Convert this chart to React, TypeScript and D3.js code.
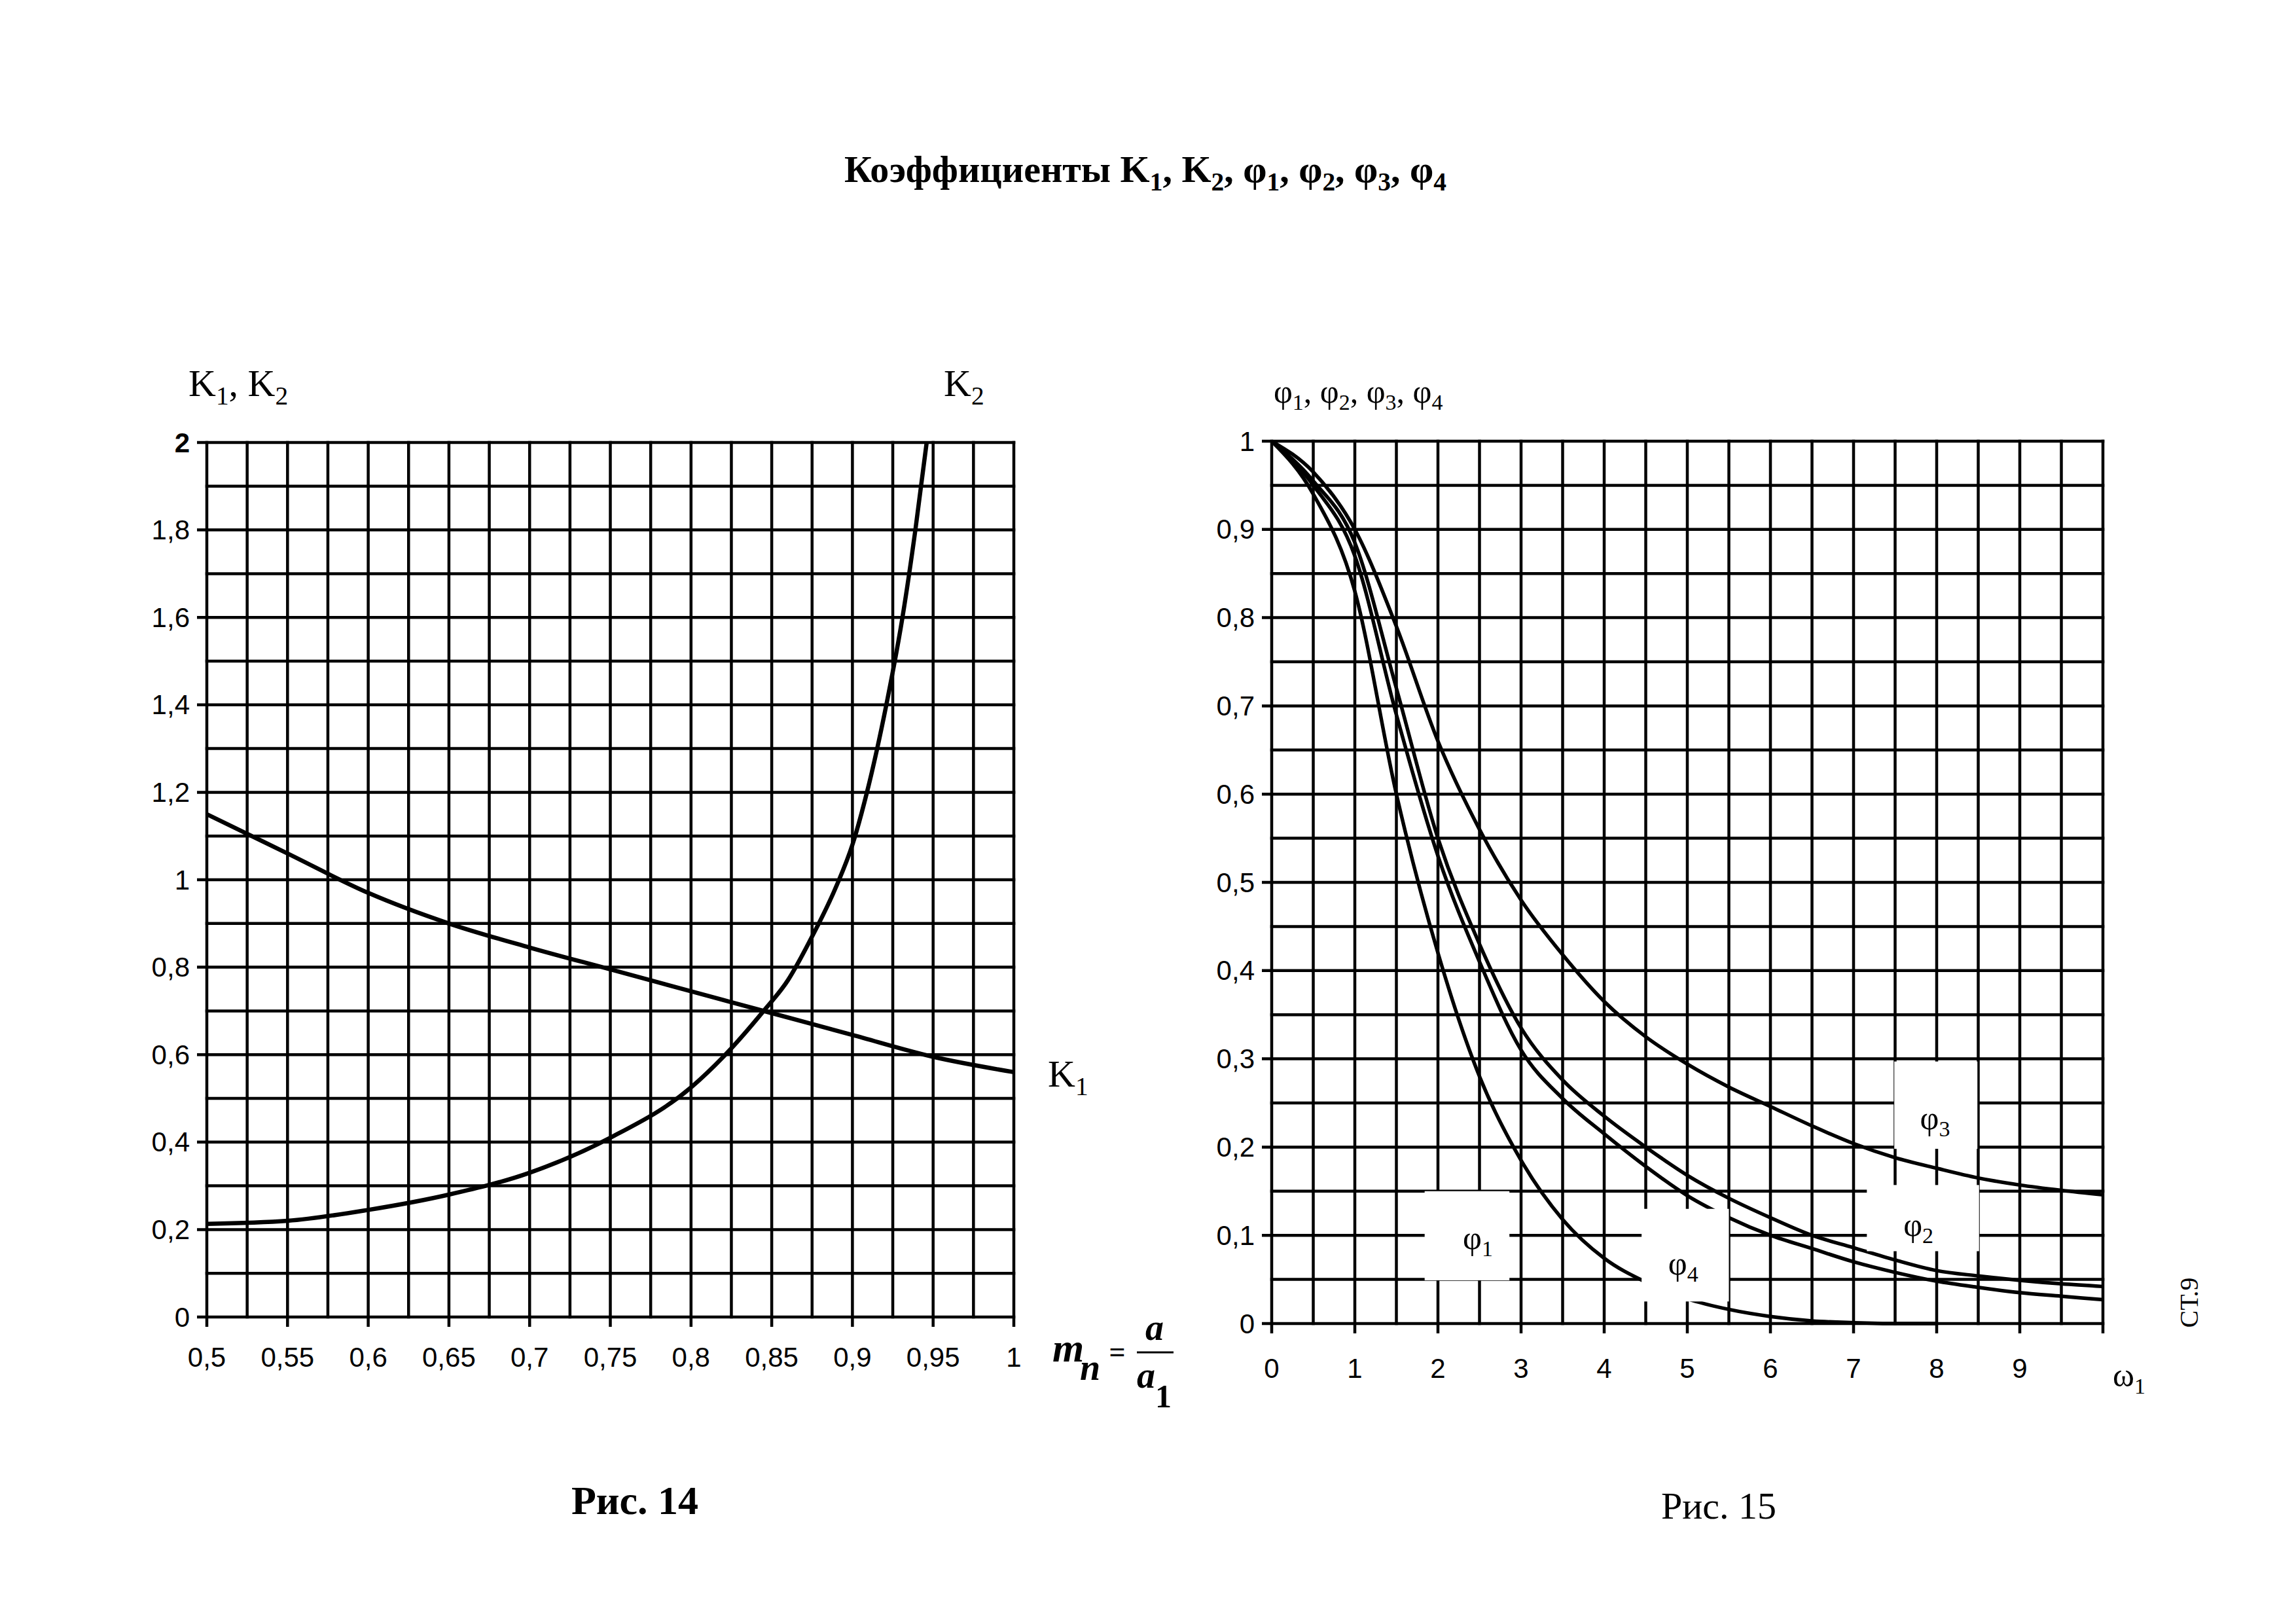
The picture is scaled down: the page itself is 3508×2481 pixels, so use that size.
import React from 'react'
import * as d3 from 'd3'

// Рис. 14: K1, K2 against mn = a / a1
const mn = [0.5, 0.55, 0.6, 0.65, 0.7, 0.75, 0.8, 0.85, 0.9, 0.95, 1]
const k1Values = [1.15, 1.06, 0.97, 0.9, 0.845, 0.795, 0.745, 0.695, 0.645, 0.595, 0.56]
const k2Mn = [0.5, 0.55, 0.6, 0.65, 0.7, 0.75, 0.8, 0.82, 0.845, 0.86, 0.875, 0.89, 0.9, 0.909, 0.921, 0.931, 0.939, 0.946]
const k2Values = [0.213, 0.22, 0.245, 0.28, 0.33, 0.41, 0.525, 0.595, 0.7, 0.77, 0.87, 0.985, 1.08, 1.2, 1.4, 1.6, 1.8, 2.0]
const kXTicks = [0.5, 0.55, 0.6, 0.65, 0.7, 0.75, 0.8, 0.85, 0.9, 0.95, 1]
const kXTickLabels = ['0,5', '0,55', '0,6', '0,65', '0,7', '0,75', '0,8', '0,85', '0,9', '0,95', '1']
const kYTicks = [0, 0.2, 0.4, 0.6, 0.8, 1, 1.2, 1.4, 1.6, 1.8, 2]
const kYTickLabels = ['0', '0,2', '0,4', '0,6', '0,8', '1', '1,2', '1,4', '1,6', '1,8', '2']

// Рис. 15: φ1..φ4 against ω1
const omega = [0, 0.5, 1, 1.5, 2, 2.5, 3, 3.5, 4, 4.5, 5, 5.5, 6, 6.5, 7, 7.5, 8, 8.5, 9, 9.5, 10]
const phi1 = [1, 0.95, 0.87, 0.69, 0.53, 0.41, 0.31, 0.255, 0.215, 0.178, 0.145, 0.12, 0.1, 0.085, 0.07, 0.058, 0.048, 0.041, 0.035, 0.031, 0.027]
const phi2 = [1, 0.955, 0.885, 0.72, 0.55, 0.43, 0.335, 0.276, 0.235, 0.2, 0.168, 0.142, 0.12, 0.1, 0.086, 0.072, 0.06, 0.054, 0.049, 0.045, 0.042]
const phi3 = [1, 0.965, 0.9, 0.79, 0.66, 0.56, 0.48, 0.418, 0.365, 0.325, 0.294, 0.268, 0.246, 0.224, 0.204, 0.188, 0.176, 0.165, 0.157, 0.151, 0.146]
const phi4Omega = [0, 0.5, 1, 1.5, 2, 2.5, 3, 3.5, 4, 4.5, 5, 5.5, 6, 6.5, 7, 7.5, 8]
const phi4 = [1, 0.94, 0.83, 0.6, 0.42, 0.28, 0.185, 0.118, 0.074, 0.047, 0.028, 0.016, 0.008, 0.003, 0.001, 0, 0]
const phiXTicks = [0, 1, 2, 3, 4, 5, 6, 7, 8, 9]
const phiXTickLabels = ['0', '1', '2', '3', '4', '5', '6', '7', '8', '9']
const phiYTicks = [0, 0.1, 0.2, 0.3, 0.4, 0.5, 0.6, 0.7, 0.8, 0.9, 1]
const phiYTickLabels = ['0', '0,1', '0,2', '0,3', '0,4', '0,5', '0,6', '0,7', '0,8', '0,9', '1']

const SANS = '"Liberation Sans", Arial, sans-serif'
const SERIF = '"Liberation Serif", "Times New Roman", serif'
const GRID = 4.5
const TICK = 15

// text with subscripts: parts = [[base, sub], ...]
function SubText(props: {
  x: number
  y: number
  parts: [string, string][]
  size: number
  weight?: string
  anchor?: string
  family?: string
  italic?: boolean
}) {
  const { x, y, parts, size, weight = 'normal', anchor = 'start', family = SERIF, italic } = props
  const shift = size * 0.22
  const kids: React.ReactNode[] = []
  let down = false
  parts.forEach(([base, sub], i) => {
    kids.push(
      <tspan key={'b' + i} dy={down ? -shift : 0}>
        {base}
      </tspan>,
    )
    down = false
    if (sub) {
      kids.push(
        <tspan key={'s' + i} dy={shift} fontSize={size * 0.68}>
          {sub}
        </tspan>,
      )
      down = true
    }
  })
  return (
    <text
      x={x}
      y={y}
      fontSize={size}
      fontFamily={family}
      fontWeight={weight}
      fontStyle={italic ? 'italic' : 'normal'}
      textAnchor={anchor}
    >
      {kids}
    </text>
  )
}

function Grid(props: {
  x: d3.ScaleLinear<number, number>
  y: d3.ScaleLinear<number, number>
  xs: number[]
  ys: number[]
}) {
  const { x, y, xs, ys } = props
  const [x0, x1] = x.range()
  const [y0, y1] = y.range()
  return (
    <g stroke="#000" strokeWidth={GRID}>
      {xs.map((v, i) => (
        <line key={'v' + i} x1={x(v)} x2={x(v)} y1={y1 - GRID / 2} y2={i % 2 === 0 ? y0 + TICK : y0 + GRID / 2} />
      ))}
      {ys.map((v, i) => (
        <line key={'h' + i} y1={y(v)} y2={y(v)} x1={i % 2 === 0 ? x0 - TICK : x0 - GRID / 2} x2={x1 + GRID / 2} />
      ))}
    </g>
  )
}

const App = () => {
  // left chart
  const xL = d3.scaleLinear().domain([0.5, 1]).range([316, 1549])
  const yL = d3.scaleLinear().domain([0, 2]).range([2012, 676])
  // right chart
  const xR = d3.scaleLinear().domain([0, 10]).range([1943, 3213])
  const yR = d3.scaleLinear().domain([0, 1]).range([2022, 674])

  const lineL = d3
    .line<[number, number]>()
    .x((d) => xL(d[0]))
    .y((d) => yL(d[1]))
    .curve(d3.curveMonotoneX)
  const lineR = d3
    .line<[number, number]>()
    .x((d) => xR(d[0]))
    .y((d) => yR(d[1]))
    .curve(d3.curveMonotoneX)

  const k1 = mn.map((m, i) => [m, k1Values[i]] as [number, number])
  const k2 = k2Mn.map((m, i) => [m, k2Values[i]] as [number, number])
  const phiSeries = [
    omega.map((w, i) => [w, phi1[i]] as [number, number]),
    omega.map((w, i) => [w, phi2[i]] as [number, number]),
    omega.map((w, i) => [w, phi3[i]] as [number, number]),
    phi4Omega.map((w, i) => [w, phi4[i]] as [number, number]),
  ]

  const gridXL = d3.range(21).map((i) => 0.5 + i * 0.025)
  const gridYL = d3.range(21).map((i) => i * 0.1)
  const gridXR = d3.range(21).map((i) => i * 0.5)
  const gridYR = d3.range(21).map((i) => i * 0.05)

  // white boxes behind the curve labels (in data units)
  const boxes = [
    { label: 'φ', sub: '1', x0: 1.84, x1: 2.86, y0: 0.049, y1: 0.15, tx: 2.3, ty: 0.095 },
    { label: 'φ', sub: '4', x0: 4.45, x1: 5.5, y0: 0.025, y1: 0.13, tx: 4.77, ty: 0.066 },
    { label: 'φ', sub: '2', x0: 7.16, x1: 8.51, y0: 0.082, y1: 0.157, tx: 7.6, ty: 0.11 },
    { label: 'φ', sub: '3', x0: 7.49, x1: 8.49, y0: 0.198, y1: 0.297, tx: 7.8, ty: 0.231 },
  ]

  return (
    <svg
      width={3508}
      height={2481}
      style={{ position: 'absolute', left: 0, top: 0, background: '#fff' }}
    >
      <rect width={3508} height={2481} fill="#fff" />

      {/* title */}
      <SubText
        x={1750}
        y={278}
        size={58}
        weight="bold"
        anchor="middle"
        parts={[
          ['Коэффициенты K', '1'],
          [', K', '2'],
          [', φ', '1'],
          [', φ', '2'],
          [', φ', '3'],
          [', φ', '4'],
        ]}
      />

      {/* ---- Рис. 14 ---- */}
      <Grid x={xL} y={yL} xs={gridXL} ys={gridYL} />
      <g fill="none" stroke="#000" strokeWidth={6.5}>
        <path d={lineL(k1) ?? ''} />
        <path d={lineL(k2) ?? ''} />
      </g>
      <g fontFamily={SANS} fontSize={42}>
        {kYTicks.map((v, i) => (
          <text
            key={i}
            x={xL(0.5) - 26}
            y={yL(v)}
            textAnchor="end"
            dominantBaseline="central"
            fontWeight={v === 2 ? 'bold' : 'normal'}
          >
            {kYTickLabels[i]}
          </text>
        ))}
        {kXTicks.map((v, i) => (
          <text key={i} x={xL(v)} y={2088} textAnchor="middle">
            {kXTickLabels[i]}
          </text>
        ))}
      </g>
      <SubText x={288} y={605} size={58} parts={[['K', '1'], [', K', '2']]} />
      <SubText x={1442} y={605} size={58} parts={[['K', '2']]} />
      <SubText x={1601} y={1660} size={58} parts={[['K', '1']]} />
      {/* mn = a / a1 */}
      <g fontFamily={SERIF} fontWeight="bold" fontStyle="italic">
        <text x={1608} y={2080} fontSize={62}>m</text>
        <text x={1650} y={2108} fontSize={56}>n</text>
        <text x={1707} y={2080} fontSize={44} textAnchor="middle" fontStyle="normal">=</text>
        <line x1={1737} x2={1793} y1={2066} y2={2066} stroke="#000" strokeWidth={3} />
        <text x={1764} y={2047} fontSize={56} textAnchor="middle">a</text>
        <text x={1737} y={2120} fontSize={56}>a</text>
        <text x={1765} y={2150} fontSize={50} fontStyle="normal">1</text>
      </g>
      <text x={970} y={2313} fontSize={62} fontFamily={SERIF} fontWeight="bold" textAnchor="middle">
        Рис. 14
      </text>

      {/* ---- Рис. 15 ---- */}
      <Grid x={xR} y={yR} xs={gridXR} ys={gridYR} />
      <g fill="none" stroke="#000" strokeWidth={5.5}>
        {phiSeries.map((s, i) => (
          <path key={i} d={lineR(s) ?? ''} />
        ))}
      </g>
      {boxes.map((b, i) => (
        <rect
          key={i}
          x={xR(b.x0)}
          y={yR(b.y1)}
          width={xR(b.x1) - xR(b.x0)}
          height={yR(b.y0) - yR(b.y1)}
          fill="#fff"
        />
      ))}
      {boxes.map((b, i) => (
        <SubText key={i} x={xR(b.tx)} y={yR(b.ty) + 14} size={50} parts={[[b.label, b.sub]]} />
      ))}
      <g fontFamily={SANS} fontSize={42}>
        {phiYTicks.map((v, i) => (
          <text key={i} x={xR(0) - 26} y={yR(v)} textAnchor="end" dominantBaseline="central">
            {phiYTickLabels[i]}
          </text>
        ))}
        {phiXTicks.map((v, i) => (
          <text key={i} x={xR(v)} y={2105} textAnchor="middle">
            {phiXTickLabels[i]}
          </text>
        ))}
      </g>
      <SubText
        x={1946}
        y={615}
        size={50}
        parts={[
          ['φ', '1'],
          [', φ', '2'],
          [', φ', '3'],
          [', φ', '4'],
        ]}
      />
      <SubText x={3228} y={2118} size={50} parts={[['ω', '1']]} />
      <text
        transform="translate(3358, 1990) rotate(-90)"
        fontSize={40}
        fontFamily={SERIF}
        textAnchor="middle"
      >
        СТ.9
      </text>
      <text x={2626} y={2320} fontSize={58} fontFamily={SERIF} textAnchor="middle">
        Рис. 15
      </text>
    </svg>
  )
}

export default App
